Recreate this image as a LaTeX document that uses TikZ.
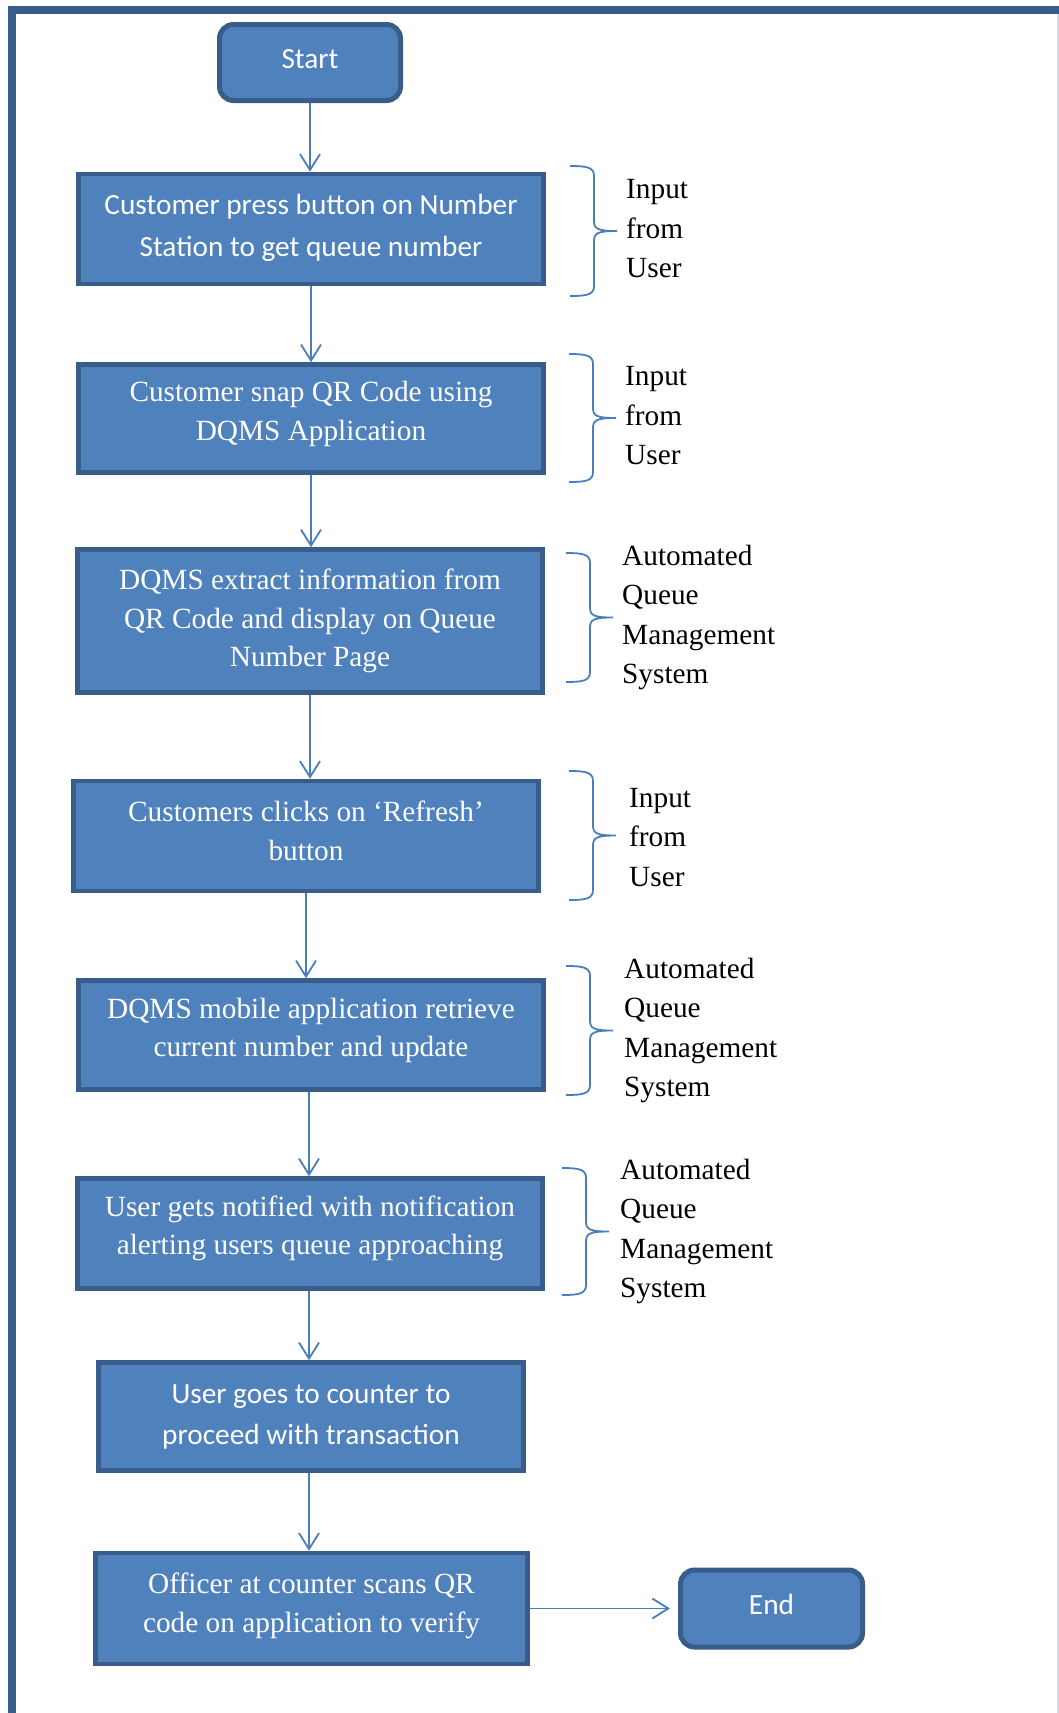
\documentclass[tikz,border=0pt]{standalone}
\usepackage{fontspec}
\setmainfont{Liberation Serif}
\newfontfamily\calibri{Carlito}
\usepackage{xcolor}
\usetikzlibrary{arrows.meta, positioning, calc}

\definecolor{boxfill}{HTML}{4F81BD}
\definecolor{boxline}{HTML}{385D8A}
\definecolor{linkblue}{HTML}{4A7EBB}
\definecolor{pageedge}{HTML}{D3DCE8}

% curly brace to the right of a step: name of tip, left x, top y, bottom y
\newcommand{\sidebrace}[4]{%
    \draw[sidecurl] (#2,#3) .. controls (#2+16,#3) and (#2+24,#3+1) .. (#2+24,#3+10)
        -- (#2+24,{(#3+#4)/2-10}) .. controls (#2+24,{(#3+#4)/2-2}) and (#2+28,{(#3+#4)/2}) .. (#2+47,{(#3+#4)/2})
        .. controls (#2+28,{(#3+#4)/2}) and (#2+24,{(#3+#4)/2+2}) .. (#2+24,{(#3+#4)/2+10})
        -- (#2+24,#4-10) .. controls (#2+24,#4-1) and (#2+16,#4) .. (#2,#4);
    \coordinate (#1) at (#2+47,{(#3+#4)/2});
}

\begin{document}
\begin{tikzpicture}[
    x=1pt, y=-1pt,
    terminal/.style={rectangle, draw=boxline, fill=boxfill, line width=5pt, rounded corners=14pt, minimum width=181pt, minimum height=76pt, text=white, text depth=8pt, font=\calibri\fontsize{29.3}{41.7}\selectfont},
    stepbox/.style={rectangle, draw=boxline, fill=boxfill, line width=4.5pt, minimum width=465pt, minimum height=110pt, text=white, align=center, inner sep=0pt, text depth=15pt, font=\fontsize{29.3}{38.5}\selectfont},
    sansbox/.style={stepbox, text depth=8pt, font=\calibri\fontsize{29.3}{41.7}\selectfont},
    link/.style={-{Straight Barb[length=16pt, width=20pt]}, draw=linkblue, line width=1.8pt},
    sidecurl/.style={draw=linkblue, line width=1.8pt},
    sidenote/.style={align=left, inner sep=0pt, font=\fontsize{29.3}{39.5}\selectfont},
]
    \useasboundingbox (0,0) rectangle (1059,1713);

    % page frame
    \draw[boxline, line width=8pt] (12,1713) -- (12,10) -- (1059,10);
    \draw[pageedge, line width=1.5pt] (1058,14) -- (1058,1713);

    \node[terminal] (start) at (310,62.5) {Start};
    \node[sansbox] (q1) at (311,229) {Customer press button on Number\\Station to get queue number};
    \node[stepbox, minimum height=108pt] (q2) at (311,418.5) {Customer snap QR Code using\\DQMS Application};
    \node[stepbox, minimum height=143pt, text depth=6pt] (q3) at (310,621) {DQMS extract information from\\QR Code and display on Queue\\Number Page};
    \node[stepbox, text depth=11pt] (q4) at (306,836) {Customers clicks on ‘Refresh’\\button};
    \node[stepbox, minimum height=109pt] (q5) at (311,1035) {DQMS mobile application retrieve\\current number and update};
    \node[stepbox, text depth=17pt] (q6) at (310,1233.5) {User gets notified with notification\\alerting users queue approaching};
    \node[sansbox, minimum width=425pt, minimum height=108pt, text depth=4pt] (q7) at (311,1416.5) {User goes to counter to\\proceed with transaction};
    \node[stepbox, minimum width=432pt, minimum height=111pt, text depth=12pt] (q8) at (311.5,1608.5) {Officer at counter scans QR\\code on application to verify};
    \node[terminal, minimum width=182pt, minimum height=77pt] (stop) at (771.5,1608.5) {End};

    \draw[link] (start.south) -- (start.south |- q1.north);
    \draw[link] (q1.south) -- (q1.south |- q2.north);
    \draw[link] (q2.south) -- (q2.south |- q3.north);
    \draw[link] (q3.south) -- (q3.south |- q4.north);
    \draw[link] (q4.south) -- (q4.south |- q5.north);
    \draw[link] ([xshift=-2pt]q5.south) -- ([xshift=-2pt]q5.south |- q6.north);
    \draw[link] ([xshift=-1pt]q6.south) -- ([xshift=-1pt]q6.south |- q7.north);
    \draw[link] ([xshift=-2pt]q7.south) -- ([xshift=-2pt]q7.south |- q8.north);
    \draw[link, shorten >=8pt] (q8.east) -- (stop.west);

    % who does each step
    \sidebrace{t1}{570}{166}{296}
    \sidebrace{t2}{569}{354}{482}
    \sidebrace{t3}{566}{553}{682}
    \sidebrace{t4}{569}{771}{900}
    \sidebrace{t5}{566}{966}{1095}
    \sidebrace{t6}{562}{1168}{1295}

    \node[sidenote, right=9pt of t1, yshift=2pt] (n1) {Input\\from\\User};
    \node[sidenote, right=9pt of t2, yshift=2pt] (n2) {Input\\from\\User};
    \node[sidenote, right=9pt of t3] (n3) {Automated\\Queue\\Management\\System};
    \node[sidenote, right=13pt of t4, yshift=-2pt] (n4) {Input\\from\\User};
    \node[sidenote, right=11pt of t5] (n5) {Automated\\Queue\\Management\\System};
    \node[sidenote, right=11pt of t6] (n6) {Automated\\Queue\\Management\\System};
\end{tikzpicture}
\end{document}
